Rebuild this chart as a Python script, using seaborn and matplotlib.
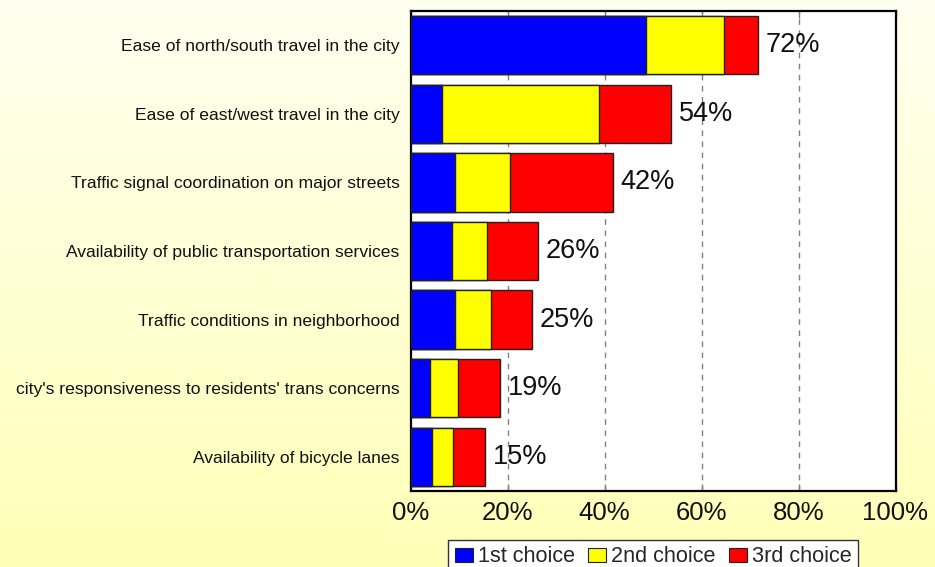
import numpy as np
import pandas as pd
import matplotlib
matplotlib.use("Agg")
import matplotlib.pyplot as plt
from matplotlib.patches import Patch
import seaborn as sns

categories = [
    "Ease of north/south travel in the city",
    "Ease of east/west travel in the city",
    "Traffic signal coordination on major streets",
    "Availability of public transportation services",
    "Traffic conditions in neighborhood",
    "city's responsiveness to residents' trans concerns",
    "Availability of bicycle lanes",
]
first_choice = [48.6, 6.4, 9.2, 8.6, 9.1, 4.1, 4.4]
second_choice = [16.0, 32.4, 11.3, 7.1, 7.5, 5.7, 4.3]
third_choice = [7.1, 15.0, 21.2, 10.6, 8.4, 8.7, 6.7]
total_labels = ["72%", "54%", "42%", "26%", "25%", "19%", "15%"]
series_names = ["1st choice", "2nd choice", "3rd choice"]
series_colors = ["#0000FF", "#FFFF00", "#FF0000"]
xticks = [0, 20, 40, 60, 80, 100]
xtick_labels = ["0%", "20%", "40%", "60%", "80%", "100%"]

sns.set_style("white")
plt.rcParams["font.family"] = ["Liberation Sans", "DejaVu Sans"]

df = pd.DataFrame({
    "category": categories,
    "c1": np.array(first_choice),
    "c2": np.array(first_choice) + np.array(second_choice),
    "c3": np.array(first_choice) + np.array(second_choice) + np.array(third_choice),
})

fig = plt.figure(figsize=(9.35, 5.67), dpi=100)

# gradient background
bg = fig.add_axes([0, 0, 1, 1], zorder=-10)
top = np.array([1.0, 1.0, 0.945])
bot = np.array([1.0, 1.0, 0.72])
t = np.linspace(0, 1, 256)[:, None]
grad = top[None, :] * (1 - t) + bot[None, :] * t
bg.imshow(grad[:, None, :], aspect="auto", extent=[0, 1, 0, 1])
bg.set_axis_off()

ax = fig.add_axes([410.5 / 935, 76 / 567, 485 / 935, 480 / 567])
ax.set_facecolor("white")

for col, color in zip(["c3", "c2", "c1"], series_colors[::-1]):
    sns.barplot(data=df, y="category", x=col, orient="h", color=color,
                width=0.85, edgecolor="#222222", linewidth=1.0,
                saturation=1, ax=ax, zorder=3)

for i, (lbl, tot) in enumerate(zip(total_labels, df["c3"])):
    ax.text(tot + 1.6, i, lbl, va="center", ha="left", fontsize=19.5,
            color="#111111", zorder=5)

ax.set_xlim(0, 100)
ax.set_ylim(6.5, -0.5)
ax.set_xticks(xticks)
ax.set_xticklabels(xtick_labels, fontsize=18.5, color="#111111")
for x in xticks[1:-1]:
    ax.axvline(x, color="#808080", linestyle=(0, (4, 4)), linewidth=1.0, zorder=1)
ax.tick_params(axis="x", direction="in", top=True, bottom=True, length=5,
               color="#808080", width=1, pad=7)
ax.tick_params(axis="y", length=0, pad=8, labelsize=12.6, labelcolor="#111111")
ax.set_xlabel("")
ax.set_ylabel("")
for s in ax.spines.values():
    s.set_visible(True)
    s.set_color("black")
    s.set_linewidth(1.6)

handles = [Patch(facecolor=c, edgecolor="#222222", linewidth=0.8, label=n)
           for c, n in zip(series_colors, series_names)]
leg = fig.legend(handles=handles, loc="upper center", ncol=3,
                 bbox_to_anchor=(653 / 935, 1 - 540 / 567), fontsize=15.6,
                 frameon=True, fancybox=False, edgecolor="#333333",
                 framealpha=1, borderpad=0.3, handlelength=0.86,
                 handleheight=0.6, handletextpad=0.21, columnspacing=0.6,
                 borderaxespad=0)
leg.get_frame().set_linewidth(1.0)

fig.savefig("out.png", dpi=100)
